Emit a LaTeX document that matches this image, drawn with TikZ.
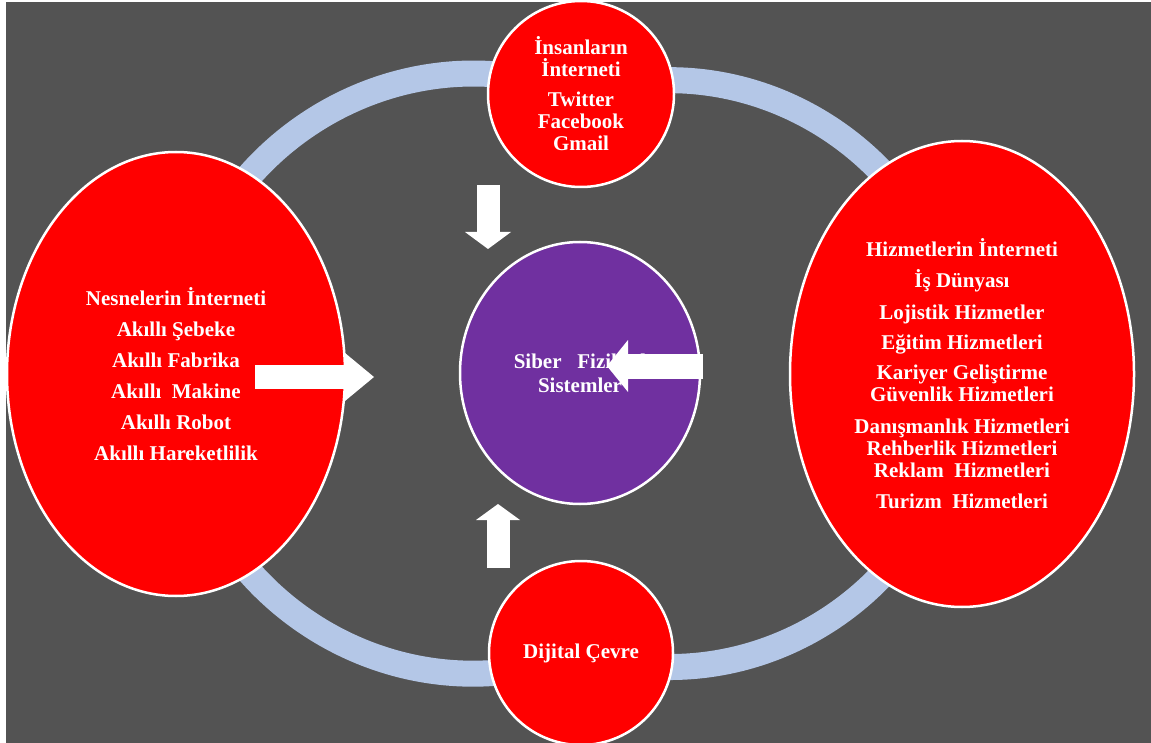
\documentclass[tikz,border=0pt]{standalone}
\usepackage{fontspec}
\setmainfont{Liberation Serif}
\usetikzlibrary{shapes.geometric, arrows.meta, backgrounds}

\definecolor{slate}{HTML}{535353}
\definecolor{ringblue}{HTML}{B4C7E7}
\definecolor{hubpurple}{HTML}{7030A0}

\begin{document}
\begin{tikzpicture}[x=1pt, y=-1pt, align=center, text=white,
    font=\bfseries\fontsize{21}{22}\selectfont,
    blob/.style={ellipse, draw=white, line width=2.5pt, fill=red, inner sep=0pt},
    ring/.style={draw=ringblue, line width=26pt},
    blockarrow/.style args={#1/#2}{draw=white, line width=24pt,
      -{Triangle[length=#1, width=#2, line width=0pt]}}]

\useasboundingbox (0,0) rectangle (1151,743);

\path (176, 374) node[blob, minimum width=338pt, minimum height=444pt] (things)
        {Nesnelerin İnterneti\\[9pt] Akıllı Şebeke\\[9pt] Akıllı Fabrika\\[9pt]
         Akıllı\ \ Makine\\[9pt] Akıllı Robot\\[9pt] Akıllı Hareketlilik}
      (962, 374) node[blob, minimum width=344pt, minimum height=466pt] (services)
        {Hizmetlerin İnterneti\\[9pt] İş Dünyası\\[10pt] Lojistik Hizmetler\\[8pt]
         Eğitim Hizmetleri\\[8pt] Kariyer Geliştirme\\ Güvenlik Hizmetleri\\[10pt]
         Danışmanlık Hizmetleri\\ Rehberlik Hizmetleri\\ Reklam\ \ Hizmetleri\\[9pt]
         Turizm\ \ Hizmetleri}
      (581, 94) node[blob, minimum width=186pt, minimum height=186pt] (people)
        {İnsanların\\ İnterneti\\[8pt] Twitter\\ Facebook\\ Gmail}
      (581, 653) node[blob, minimum width=184pt, minimum height=184pt] (digital)
        {Dijital Çevre}
      (580, 373) node[blob, fill=hubpurple, minimum width=240pt, minimum height=262pt,
        font=\bfseries\fontsize{21}{24}\selectfont] (cps)
        {Siber\ \ \ Fiziksel\\ Sistemler};

\begin{scope}[on background layer]
  \fill[white] (0,0) rectangle (1151,743);
  \fill[slate] (6,2) rectangle (1151,743);
  \draw[ring] (things.center) to[bend left=56, looseness=1.09] (people.center);
  \draw[ring] (people.center) to[bend left=54, looseness=1.07] (services.center);
  \draw[ring] (services.center) to[bend left=54, looseness=1.07] (digital.center);
  \draw[ring] (digital.center) to[bend left=56, looseness=1.09] (things.center);
\end{scope}

\coordinate (peopleOut) at (488, 185);
\coordinate (peopleIn) at (488, 249);
\coordinate (digitalOut) at (498, 568);
\coordinate (digitalIn) at (498, 504);
\coordinate (thingsOut) at (255, 377);
\coordinate (thingsIn) at (374, 377);
\coordinate (servicesOut) at (703, 366);
\coordinate (servicesIn) at (607, 366);

\draw[blockarrow=17pt/46pt, line width=23pt] (peopleOut) -- (peopleIn);
\draw[blockarrow=16pt/44pt, line width=23pt] (digitalOut) -- (digitalIn);
\draw[blockarrow=29pt/48pt] (thingsOut) -- (thingsIn);
\draw[blockarrow=21pt/52pt, line width=25pt] (servicesOut) -- (servicesIn);

\end{tikzpicture}
\end{document}
